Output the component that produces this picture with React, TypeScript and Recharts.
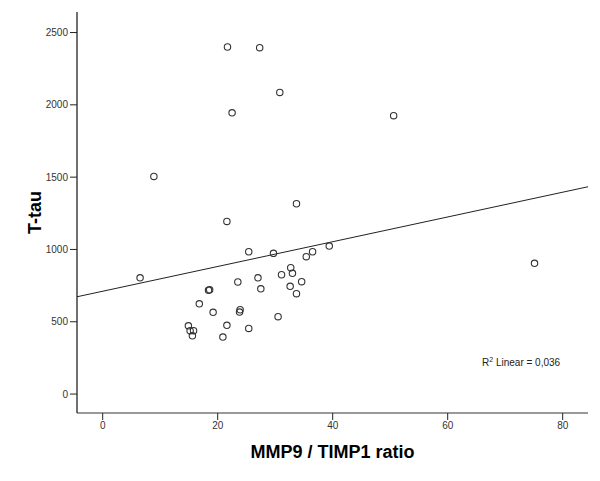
import {
  Customized,
  Label,
  ReferenceLine,
  Scatter,
  ScatterChart,
  XAxis,
  YAxis,
} from "recharts";

// MMP9 / TIMP1 ratio vs T-tau
const ratio = [
  21.7, 27.3, 30.8, 22.5, 8.9, 33.7, 21.6, 50.6, 75.1,
  6.5, 25.4, 29.7, 32.7, 33.0, 31.1, 27.0, 23.5, 27.5, 32.6, 34.6, 33.7,
  18.6, 18.4, 16.8, 19.2, 23.8, 23.9, 30.5, 14.9, 15.2, 15.8, 15.6,
  21.6, 25.4, 20.9, 35.4, 36.5, 39.4,
];
const tTau = [
  2400, 2395, 2086, 1945, 1505, 1316, 1194, 1925, 904,
  804, 984, 973, 874, 835, 825, 804, 775, 728, 745, 777, 694,
  721, 718, 624, 565, 567, 583, 535, 472, 438, 438, 403,
  475, 454, 394, 950, 984, 1023,
];
const xTicks = [0, 20, 40, 60, 80];
const yTicks = [0, 500, 1000, 1500, 2000, 2500];
const xDomain = [-4.47, 84.4];
const yDomain = [-131, 2642];
const fitIntercept = 711;
const fitSlope = 8.56;

const points = ratio.map((x, i) => ({ x, y: tTau[i] }));
const fitLine = xDomain.map((x) => ({ x, y: fitIntercept + fitSlope * x }));

const tickStyle = { fontSize: 10, fill: "#333", fontFamily: "Arial, 'Liberation Sans', sans-serif" };
const titleFont = "Arial, 'Liberation Sans', sans-serif";

function Ring(props: { cx?: number; cy?: number }) {
  const { cx, cy } = props;
  if (cx == null || cy == null) return null;
  return <circle cx={cx} cy={cy} r={3.2} fill="none" stroke="#333" strokeWidth={1.1} />;
}

function R2Note() {
  return (
    <text x={482} y={366} fontSize={10} fill="#222" fontFamily={titleFont}>
      R<tspan fontSize={7} dy={-4}>2</tspan>
      <tspan dy={4}> Linear = 0,036</tspan>
    </text>
  );
}

export default function App() {
  return (
    <div style={{ position: "absolute", left: 0, top: 0, background: "#fff" }}>
      <ScatterChart width={600} height={481} margin={{ top: 12, right: 12, bottom: 38, left: 0 }}>
        <XAxis
          type="number"
          dataKey="x"
          domain={xDomain}
          ticks={xTicks}
          allowDataOverflow
          height={30}
          tick={tickStyle}
          tickSize={7}
          tickLine={{ stroke: "#222" }}
          axisLine={{ stroke: "#777", strokeWidth: 1.5 }}
        >
          <Label
            content={({ viewBox }: any) => (
              <text
                x={viewBox.x + viewBox.width / 2}
                y={viewBox.y + 45}
                textAnchor="middle"
                fontSize={18}
                fontWeight="bold"
                fontFamily={titleFont}
                fill="#000"
              >
                MMP9 / TIMP1 ratio
              </text>
            )}
          />
        </XAxis>
        <XAxis xAxisId="top" type="number" orientation="top" domain={xDomain} height={0} tick={false} tickLine={false} axisLine={{ stroke: "#777", strokeWidth: 1.5 }} />
        <YAxis
          type="number"
          dataKey="y"
          domain={yDomain}
          ticks={yTicks}
          allowDataOverflow
          width={77}
          tick={tickStyle}
          tickSize={7}
          tickLine={{ stroke: "#222" }}
          axisLine={{ stroke: "#111", strokeWidth: 1.2 }}
        >
          <Label
            content={({ viewBox }: any) => {
              const cx = viewBox.x + 41;
              const cy = viewBox.y + viewBox.height / 2;
              return (
                <text
                  x={cx}
                  y={cy}
                  transform={`rotate(-90, ${cx}, ${cy})`}
                  textAnchor="middle"
                  fontSize={18}
                  fontWeight="bold"
                  fontFamily={titleFont}
                  fill="#000"
                >
                  T-tau
                </text>
              );
            }}
          />
        </YAxis>
        <YAxis yAxisId="right" type="number" orientation="right" domain={yDomain} width={0} tick={false} tickLine={false} axisLine={{ stroke: "#777", strokeWidth: 1.5 }} />
        <ReferenceLine segment={fitLine} stroke="#222" strokeWidth={1} ifOverflow="hidden" />
        <Scatter data={points} shape={<Ring />} isAnimationActive={false} />
        <Customized component={R2Note} />
      </ScatterChart>
    </div>
  );
}
